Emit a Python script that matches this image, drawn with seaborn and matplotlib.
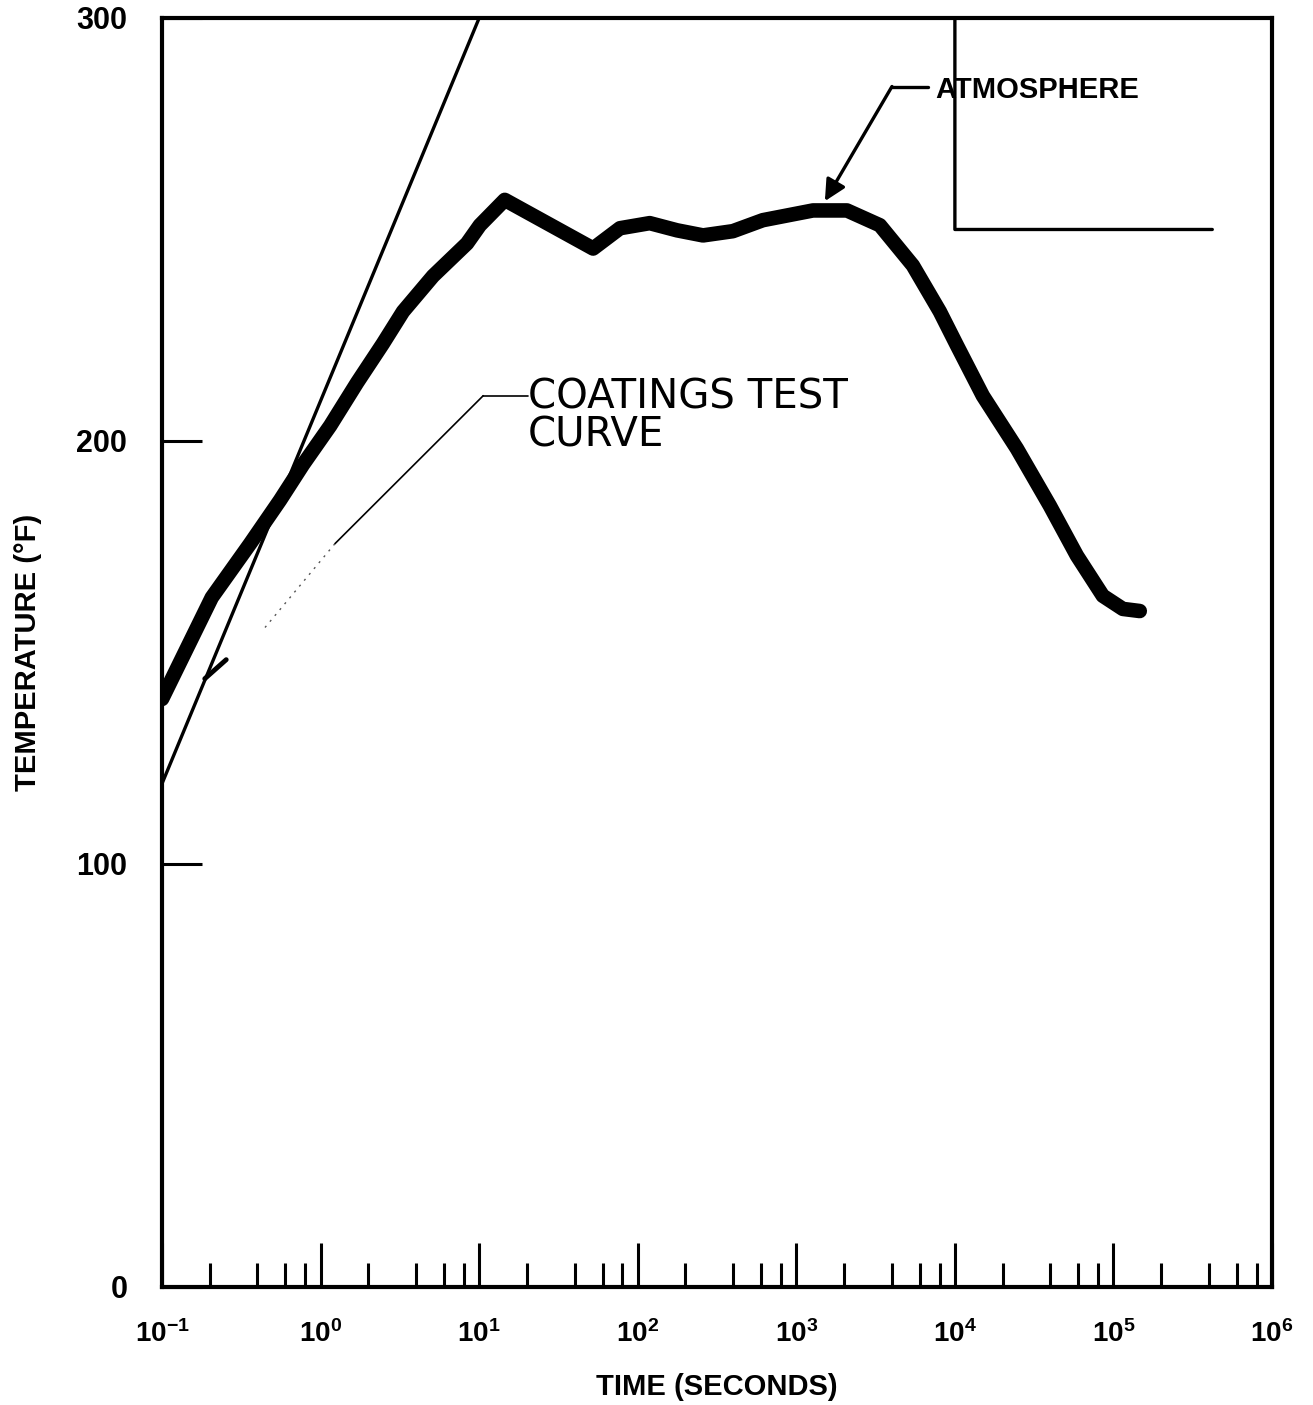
import matplotlib
matplotlib.use("Agg")
import matplotlib.pyplot as plt
from matplotlib.ticker import LogLocator, FixedLocator, NullFormatter, FixedFormatter
import pandas as pd
import seaborn as sns

# Coatings test curve: time (s) vs temperature (deg F)
coat_time = [0.1, 0.206, 0.359, 0.555, 0.774, 1.15, 1.70, 2.47, 3.31, 5.12,
             8.38, 10.1, 14.5, 52.3, 77.3, 119, 177, 258, 398, 615,
             1274, 2086, 3365, 5430, 8035, 10300, 15000, 24600, 39700, 58800,
             85700, 114600, 146500]
coat_temp = [139, 163, 175.7, 186, 194.4, 203.6, 213.8, 223, 230.6, 239,
             246.7, 251, 257, 245.5, 250.3, 251.5, 249.8, 248.6, 249.6, 252.2,
             254.5, 254.5, 251, 241.5, 230.6, 222.6, 210.7, 198.2, 184.7, 172.9,
             163.4, 160.3, 159.8]

# Atmosphere profile
atm_time = [0.1, 10, 1e4, 1e4, 4.2e5]
atm_temp = [119, 300, 300, 250, 250]

x_decades = [1e-1, 1e0, 1e1, 1e2, 1e3, 1e4, 1e5, 1e6]
x_labels = [r"$\mathbf{10^{-1}}$", r"$\mathbf{10^{0}}$", r"$\mathbf{10^{1}}$",
            r"$\mathbf{10^{2}}$", r"$\mathbf{10^{3}}$", r"$\mathbf{10^{4}}$",
            r"$\mathbf{10^{5}}$", r"$\mathbf{10^{6}}$"]
y_ticks = [0, 100, 200, 300]
y_labels = ["0", "100", "200", "300"]

sns.set_style("white")
plt.rcParams["font.family"] = ["Liberation Sans", "DejaVu Sans"]
plt.rcParams["mathtext.fontset"] = "custom"
plt.rcParams["mathtext.rm"] = "Liberation Sans"
plt.rcParams["mathtext.bf"] = "Liberation Sans:bold"
plt.rcParams["text.color"] = "black"
plt.rcParams["axes.labelcolor"] = "black"
plt.rcParams["xtick.color"] = "black"
plt.rcParams["ytick.color"] = "black"

fig = plt.figure(figsize=(13.13, 14.05), dpi=100)
ax = fig.add_axes([0.1234, 0.0840, 0.8454, 0.9032])

coat = pd.DataFrame({"time": coat_time, "temp": coat_temp})
atm = pd.DataFrame({"time": atm_time, "temp": atm_temp})

sns.lineplot(data=atm, x="time", y="temp", ax=ax, sort=False, estimator=None,
             color="black", linewidth=2.4, clip_on=False)
sns.lineplot(data=coat, x="time", y="temp", ax=ax, sort=False, estimator=None,
             color="black", linewidth=10.5, solid_capstyle="round",
             solid_joinstyle="round")

ax.set_xscale("log")
ax.set_xlim(1e-1, 1e6)
ax.set_ylim(0, 300)

for s in ax.spines.values():
    s.set_visible(True)
    s.set_linewidth(3.0)
    s.set_color("black")

ax.xaxis.set_major_locator(FixedLocator(x_decades))
ax.xaxis.set_major_formatter(FixedFormatter(x_labels))
ax.xaxis.set_minor_locator(LogLocator(base=10, subs=[2, 4, 6, 8], numticks=20))
ax.xaxis.set_minor_formatter(NullFormatter())
ax.yaxis.set_major_locator(FixedLocator(y_ticks))
ax.yaxis.set_major_formatter(FixedFormatter(y_labels))
ax.yaxis.set_minor_locator(FixedLocator([]))

ax.tick_params(axis="x", which="major", direction="in", length=32, width=2.2,
               pad=24, labelsize=20, bottom=True, top=False, color="black",
               labelcolor="black")
ax.tick_params(axis="x", which="minor", direction="in", length=17, width=2.2,
               bottom=True, top=False, color="black")
ax.tick_params(axis="y", which="major", direction="in", length=29, width=2.2,
               pad=25, labelsize=22, left=True, right=False, color="black",
               labelcolor="black")
for lbl in ax.get_yticklabels():
    lbl.set_fontweight("bold")

ax.set_xlabel("TIME (SECONDS)", fontsize=21, fontweight="bold", color="black")
ax.set_ylabel("TEMPERATURE (°F)", fontsize=21, fontweight="bold", color="black")
ax.xaxis.set_label_coords(0.5, -0.068)
ax.yaxis.label.set_verticalalignment("center")
ax.yaxis.set_label_coords(-0.121, 0.5)

# Annotation: ATMOSPHERE
ax.plot([6760, 4010], [283.8, 283.8], color="black", lw=2.4)
ax.annotate("", xy=(1514, 256.7), xytext=(4010, 283.8),
            arrowprops=dict(arrowstyle="-|>", mutation_scale=32, lw=2.4,
                            color="black", shrinkA=0, shrinkB=0))
ax.text(7480, 281.1, "ATMOSPHERE", fontsize=21, fontweight="bold",
        ha="left", va="baseline", color="black")

# Annotation: COATINGS TEST CURVE
ax.plot([20.3, 10.6], [210.7, 210.7], color="black", lw=1.2)
ax.plot([10.6, 1.23], [210.7, 175.7], color="black", lw=1.2)
ax.plot([1.23, 0.428], [175.7, 155.1], color="#555555", lw=1.0,
        linestyle=(0, (1.5, 4)))
ax.plot([0.254, 0.186], [148.3, 143.8], color="black", lw=3.5,
        solid_capstyle="round")
ax.text(20.3, 207.7, "COATINGS TEST", fontsize=29, family="DejaVu Sans",
        ha="left", va="baseline", color="black")
ax.text(20.3, 198.7, "CURVE", fontsize=29, family="DejaVu Sans",
        ha="left", va="baseline", color="black")

fig.savefig("out.png", dpi=100, facecolor="white")
